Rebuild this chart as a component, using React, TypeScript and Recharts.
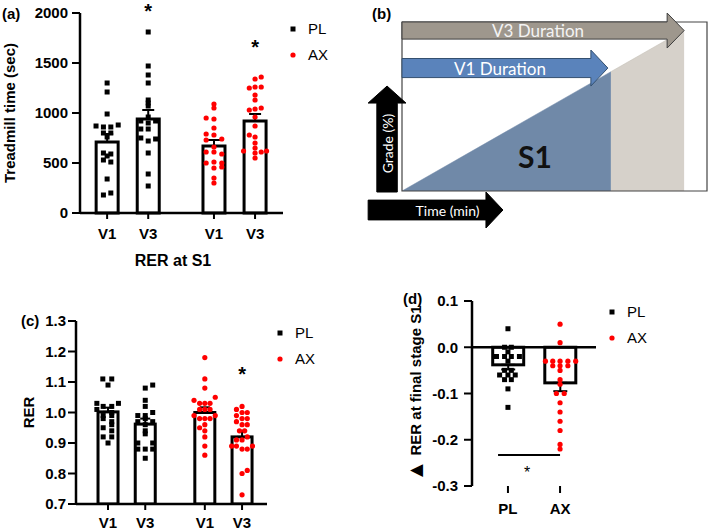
import React from 'react';
import {
  ComposedChart, Bar, Scatter, XAxis, YAxis, ErrorBar, ReferenceLine,
  ReferenceDot, ReferenceArea, Legend, Area, Label,
} from 'recharts';

const ARIAL = '"Liberation Sans", Arial, Helvetica, sans-serif';
const CALIBRI = 'Lato, "Open Sans", sans-serif';
const RED = '#ff0000';

// ---------- shared categories ----------
const visitLabels = ['V1', 'V3', 'V1', 'V3'];
const visitPos = [1, 2, 3.6, 4.6];
const groupNames = ['PL', 'AX'];
const groupPos = [1, 2];

// ---------- (a) treadmill time (sec) ----------
const timeTicks = [0, 500, 1000, 1500, 2000];
const timeMean = [710, 940, 670, 920];
const timeSem = [80, 90, 60, 70];
const timePLV1 = [1300, 1210, 990, 870, 860, 860, 880, 800, 800, 760, 600, 590, 570, 530, 510, 340, 180, 200];
const timePLV1Dx = [0, 0, 0, -0.27, -0.09, 0.09, 0.27, -0.09, 0.09, 0, -0.09, 0.09, 0, -0.09, 0.09, 0, -0.09, 0.09];
const timePLV3 = [1810, 1470, 1380, 1300, 1130, 1100, 1070, 960, 920, 920, 900, 840, 840, 750, 740, 720, 600, 390, 270];
const timePLV3Dx = [0, 0, 0, 0, 0, 0, 0, 0, -0.18, 0.18, 0, -0.18, 0, -0.18, 0.18, 0, 0, 0, 0];
const timeAXV1 = [1090, 1050, 950, 940, 850, 790, 780, 730, 740, 660, 610, 610, 590, 500, 510, 500, 460, 450, 350, 300];
const timeAXV1Dx = [0, 0, -0.19, 0, 0, -0.19, 0, -0.19, 0.19, 0, -0.19, 0, 0.19, -0.19, 0, 0.19, 0.19, 0, 0, 0];
const timeAXV3 = [1360, 1340, 1260, 1260, 1250, 1180, 1130, 1050, 1030, 1040, 960, 870, 780, 760, 700, 650, 620, 620, 610, 600, 550];
const timeAXV3Dx = [0.15, 0, 0, 0.15, -0.14, 0, 0, 0.15, -0.14, 0, 0, 0, -0.14, 0, 0, 0, -0.28, 0.28, 0.15, 0, 0];
const timeStars = [{ x: 2, y: 2020 }, { x: 4.6, y: 1662 }];

// ---------- (c) RER at S1 ----------
const rerTicks = [0.7, 0.8, 0.9, 1.0, 1.1, 1.2, 1.3];
const rerMean = [1.002, 0.962, 1.0, 0.92];
const rerSem = [0.014, 0.018, 0.017, 0.02];
const rerPLV1 = [1.11, 1.11, 1.09, 1.03, 1.02, 1.02, 1.03, 1.01, 1.0, 0.99, 0.99, 0.98, 0.97, 0.96, 0.95, 0.94, 0.92, 0.92, 0.9];
const rerPLV1Dx = [-0.14, 0.1, 0, -0.3, -0.13, 0.1, 0.28, -0.3, 0.1, -0.13, 0.1, -0.13, 0.1, 0.1, -0.13, 0.1, -0.13, 0.1, 0];
const rerPLV3 = [1.09, 1.08, 1.04, 1.02, 1.0, 0.99, 0.99, 0.98, 0.97, 0.97, 0.96, 0.94, 0.93, 0.9, 0.9, 0.88, 0.88, 0.88, 0.85];
const rerPLV3Dx = [0.2, 0, 0, 0, 0.2, -0.2, 0, 0, -0.2, 0.2, 0, 0, 0, -0.2, 0.2, -0.2, 0, 0.2, 0];
const rerAXV1 = [1.18, 1.11, 1.08, 1.05, 1.04, 1.03, 1.03, 1.03, 1.01, 1.01, 1.01, 0.99, 0.99, 0.98, 0.98, 0.98, 0.96, 0.95, 0.94, 0.92, 0.89, 0.86];
const rerAXV1Dx = [0, 0, 0, 0.28, -0.29, -0.14, 0, 0.14, -0.14, 0, 0.14, -0.29, 0.28, -0.14, 0, 0.14, 0, -0.14, 0, 0, 0, 0];
const rerAXV3 = [1.02, 1.01, 1.0, 1.0, 0.99, 0.98, 0.98, 0.97, 0.96, 0.96, 0.94, 0.94, 0.92, 0.91, 0.91, 0.89, 0.89, 0.89, 0.88, 0.88, 0.81, 0.8, 0.73];
const rerAXV3Dx = [0, -0.15, 0, 0.14, -0.15, 0, 0.14, -0.15, 0, 0.14, -0.07, 0.07, 0.14, -0.15, 0, -0.28, -0.15, 0.28, 0, 0.14, 0.14, 0, 0];
const rerStars = [{ x: 4.6, y: 1.128 }];

// ---------- (d) delta RER at final stage S1 ----------
const dTicks = [-0.3, -0.2, -0.1, 0.0, 0.1];
const dMean = [-0.038, -0.077];
const dSem = [0.01, 0.018];
const dPL = [0.04, 0, 0, -0.01, -0.02, -0.02, -0.02, -0.02, -0.03, -0.05, -0.05, -0.06, -0.06, -0.06, -0.07, -0.07, -0.09, -0.13];
const dPLDx = [0, -0.065, 0.065, 0, -0.22, -0.065, 0.065, 0.22, 0, -0.065, 0.065, -0.16, 0, 0.14, -0.065, 0.065, 0, 0];
const dAX = [0.05, 0.01, -0.03, -0.03, -0.03, -0.03, -0.03, -0.04, -0.04, -0.04, -0.05, -0.07, -0.08, -0.1, -0.1, -0.12, -0.14, -0.16, -0.18, -0.21, -0.22];
const dAXDx = [0, 0, -0.28, -0.14, 0, 0.15, 0.3, -0.14, 0, 0.15, 0, 0, 0, -0.07, 0.08, 0, 0, 0, 0, 0, 0];
const dSigBar = [{ x: 0.81, y: -0.233 }, { x: 2.0, y: -0.233 }];
const dStar = { x: 1.37, y: -0.271 };

// ---------- (b) schematic: grade vs time ----------
const rampTime = [0, 68.5, 92.5];
const rampS1 = [0, 70.6, null];
const rampV3 = [null, 70.6, 95.3];
const v3Arrow = { x1: 0, x2: 92.5, y1: 84.6, y2: 105.3 };
const v1Arrow = { x1: 0, x2: 67.5, y1: 62.1, y2: 83.4 };
const gradeArrow = { x1: -11.1, x2: 1.3, y1: -0.6, y2: 62.1 };
const timeArrow = { x1: -11.1, x2: 33.1, y1: -21.9, y2: -0.6 };
const s1Pos = { x: 43.6, y: 20 };

// ---------- helpers ----------
const pts = (vals: number[], dx: number[], c: number) => vals.map((y, i) => ({ x: c + dx[i], y }));
const barRows = (pos: number[], mean: number[], sem: number[]) =>
  pos.map((x, i) => ({ x, y: mean[i], err: mean[i] >= 0 ? [0, sem[i]] : [sem[i], 0] }));

const timeBars = barRows(visitPos, timeMean, timeSem);
const timePL = [...pts(timePLV1, timePLV1Dx, visitPos[0]), ...pts(timePLV3, timePLV3Dx, visitPos[1])];
const timeAX = [...pts(timeAXV1, timeAXV1Dx, visitPos[2]), ...pts(timeAXV3, timeAXV3Dx, visitPos[3])];
const rerBars = barRows(visitPos, rerMean, rerSem);
const rerPL = [...pts(rerPLV1, rerPLV1Dx, visitPos[0]), ...pts(rerPLV3, rerPLV3Dx, visitPos[1])];
const rerAX = [...pts(rerAXV1, rerAXV1Dx, visitPos[2]), ...pts(rerAXV3, rerAXV3Dx, visitPos[3])];
const dBars = barRows(groupPos, dMean, dSem);
const dPLPts = pts(dPL, dPLDx, groupPos[0]);
const dAXPts = pts(dAX, dAXDx, groupPos[1]);
const rampData = rampTime.map((t, i) => ({ t, s1: rampS1[i], v3: rampV3[i] }));

const squareShape = (p: any) => <rect x={p.cx - 2.5} y={p.cy - 2.5} width={5} height={5} fill="#000" />;
const dotShape = (p: any) => <circle cx={p.cx} cy={p.cy} r={2.6} fill={RED} />;

// bar drawn centred on the library's bar position, with a fixed visual width
const barShape = (w: number) => (p: any) => {
  const cx = p.x + p.width / 2;
  const y0 = Math.min(p.y, p.y + p.height);
  const h = Math.abs(p.height);
  return <rect x={cx - w / 2} y={y0} width={w} height={h} fill="#fff" stroke="#000" strokeWidth={3} />;
};

const legendOrder = ['PL', 'AX'];
const legendContent = (props: any) => {
  const items = (props.payload || []).filter((e: any) => legendOrder.includes(e.value))
    .sort((a: any, b: any) => legendOrder.indexOf(a.value) - legendOrder.indexOf(b.value));
  return (
    <div style={{ fontFamily: ARIAL, fontSize: 15, color: '#000' }}>
      {items.map((e: any) => (
        <div key={e.value} style={{ display: 'flex', alignItems: 'center', height: 26 }}>
          <svg width={10} height={10} style={{ display: 'block' }}>
            {e.value === 'PL'
              ? <rect x={2.5} y={2.5} width={5} height={5} fill="#000" />
              : <circle cx={5} cy={5} r={2.6} fill={RED} />}
          </svg>
          <span style={{ marginLeft: 10, lineHeight: '26px' }}>{e.value}</span>
        </div>
      ))}
    </div>
  );
};

const yTitle = (text: string, cx: number, size: number, prefix?: string) => (props: any) => {
  const vb = props.viewBox || { y: 0, height: 0 };
  const cy = vb.y + vb.height / 2;
  return (
    <text x={cx} y={cy} transform={`rotate(-90 ${cx} ${cy})`} textAnchor="middle" dominantBaseline="central"
      fontFamily={ARIAL} fontWeight="bold" fontSize={size} fill="#000">
      {prefix ? <tspan fontSize={size + 7}>{prefix}</tspan> : null}
      {text}
    </text>
  );
};

const tickStyle = { fill: '#000', fontSize: 15, fontWeight: 'bold', fontFamily: ARIAL } as any;
const axisLine = { stroke: '#000', strokeWidth: 2.5 };
const tickLine = { stroke: '#000', strokeWidth: 2 };
const starLabel = (size: number, weight: string) => ({
  value: '*', position: 'center', fontSize: size, fontWeight: weight, fill: '#000', fontFamily: ARIAL,
}) as any;

const arrowShape = (dir: 'right' | 'up', bodyFrac: number, head: number, text: string, fs: number, color: string, rot: boolean, tdx = 0) =>
  (p: any) => {
    const { x, y, width: w, height: h, fill, stroke } = p;
    let poly = '';
    let cx = x + w / 2 + tdx;
    let cy = y + h / 2;
    if (dir === 'right') {
      const bt = y + (h * (1 - bodyFrac)) / 2;
      const bb = y + (h * (1 + bodyFrac)) / 2;
      const hx = x + w - head;
      poly = `${x},${bt} ${hx},${bt} ${hx},${y} ${x + w},${y + h / 2} ${hx},${y + h} ${hx},${bb} ${x},${bb}`;
    } else {
      const bl = x + (w * (1 - bodyFrac)) / 2;
      const br = x + (w * (1 + bodyFrac)) / 2;
      const hy = y + head;
      poly = `${bl},${y + h} ${bl},${hy} ${x},${hy} ${x + w / 2},${y} ${x + w},${hy} ${br},${hy} ${br},${y + h}`;
      cx = x + w / 2;
      cy = hy + (h - head) / 2 + tdx;
    }
    return (
      <g>
        <polygon points={poly} fill={fill} stroke={stroke} strokeWidth={1} />
        <text x={cx} y={cy} textAnchor="middle" dominantBaseline="central" fontFamily={CALIBRI}
          fontSize={fs} fill={color} transform={rot ? `rotate(-90 ${cx} ${cy})` : undefined}>{text}</text>
      </g>
    );
  };

const abs = (left: number, top: number): React.CSSProperties => ({ position: 'absolute', left, top });
const panelTag = (t: string, left: number, cy: number) => (
  <div style={{ ...abs(left, cy - 8), fontFamily: ARIAL, fontWeight: 'bold', fontSize: 15, lineHeight: '16px', color: '#000' }}>{t}</div>
);

export default function App() {
  return (
    <div style={{ position: 'absolute', left: 0, top: 0, width: 709, height: 532, background: '#fff', overflow: 'hidden' }}>
      {/* (a) */}
      <div style={abs(0, 0)}>
        <ComposedChart width={300} height={245} data={timeBars} margin={{ top: 13, right: 17, bottom: 0, left: 0 }}>
          <XAxis type="number" dataKey="x" domain={[0.34, 5.28]} ticks={visitPos} interval={0} allowDataOverflow
            tickFormatter={(v: number) => visitLabels[visitPos.indexOf(v)]} tick={tickStyle}
            tickSize={6} tickMargin={9} axisLine={axisLine} tickLine={tickLine} height={32} />
          <YAxis type="number" dataKey="y" domain={[0, 2000]} ticks={timeTicks} interval={0} width={80}
            tick={tickStyle} tickSize={8} tickMargin={4} axisLine={axisLine} tickLine={tickLine}
            label={<Label content={yTitle('Treadmill time (sec)', 9, 15)} />} />
          <Bar dataKey="y" shape={barShape(22)} fill="#fff" stroke="#000" isAnimationActive={false} legendType="none">
            <ErrorBar dataKey="err" width={6} stroke="#000" strokeWidth={2} direction="y" />
          </Bar>
          <Scatter name="PL" data={timePL} dataKey="y" fill="#000" shape={squareShape} isAnimationActive={false} />
          <Scatter name="AX" data={timeAX} dataKey="y" fill={RED} shape={dotShape} isAnimationActive={false} />
          {timeStars.map((s, i) => (
            <ReferenceDot key={i} x={s.x} y={s.y} r={0} fill="none" stroke="none" ifOverflow="visible" label={starLabel(20, 'bold')} />
          ))}
          <Legend layout="vertical" align="center" verticalAlign="middle" content={legendContent}
            wrapperStyle={{ left: 288, top: 16, width: 60, height: 52 }} />
        </ComposedChart>
      </div>

      {/* (b) */}
      <div style={abs(360, 0)}>
        <ComposedChart width={349} height={240} data={rampData} margin={{ top: 22, right: 2, bottom: 49, left: 42 }}>
          <XAxis type="number" dataKey="t" domain={[0, 100]} hide allowDataOverflow />
          <YAxis type="number" domain={[0, 100]} hide allowDataOverflow />
          <Area type="linear" dataKey="s1" fill="#7089a8" fillOpacity={1} stroke="#7089a8" strokeWidth={0.5} isAnimationActive={false} />
          <Area type="linear" dataKey="v3" fill="#d6d1ca" fillOpacity={1} stroke="#bdb6ad" strokeWidth={0.5} isAnimationActive={false} />
          <ReferenceArea x1={0} x2={100} y1={0} y2={100} fill="none" stroke="#444" strokeWidth={1.2} ifOverflow="visible" />
          <ReferenceArea {...v3Arrow} fill="#9e978d" stroke="#3f3f3f" ifOverflow="visible"
            shape={arrowShape('right', 0.49, 17, 'V3 Duration', 17, '#f3f3f3', false, -5)} />
          <ReferenceArea {...v1Arrow} fill="#5a83bb" stroke="#34506f" ifOverflow="visible"
            shape={arrowShape('right', 0.53, 17, 'V1 Duration', 17, '#ffffff', false, -5)} />
          <ReferenceArea {...gradeArrow} fill="#000" stroke="#000" ifOverflow="visible"
            shape={arrowShape('up', 0.54, 17, 'Grade (%)', 14, '#ffffff', true, -4)} />
          <ReferenceArea {...timeArrow} fill="#000" stroke="#000" ifOverflow="visible"
            shape={arrowShape('right', 0.55, 17, 'Time (min)', 14, '#ffffff', false, 12)} />
          <ReferenceDot x={s1Pos.x} y={s1Pos.y} r={0} fill="none" stroke="none" ifOverflow="visible"
            label={{ value: 'S1', position: 'center', fontSize: 30, fontWeight: 'bold', fill: '#111', fontFamily: CALIBRI } as any} />
        </ComposedChart>
      </div>

      {/* (c) */}
      <div style={abs(0, 300)}>
        <ComposedChart width={300} height={232} data={rerBars} margin={{ top: 21, right: 33, bottom: 0, left: 0 }}>
          <XAxis type="number" dataKey="x" domain={[0.14, 5.27]} ticks={visitPos} interval={0} allowDataOverflow
            tickFormatter={(v: number) => visitLabels[visitPos.indexOf(v)]} tick={tickStyle}
            tickSize={6} tickMargin={7} axisLine={axisLine} tickLine={tickLine} height={28} />
          <YAxis type="number" dataKey="y" domain={[0.7, 1.3]} ticks={rerTicks} interval={0} width={76}
            tickFormatter={(v: number) => v.toFixed(1)} allowDataOverflow
            tick={tickStyle} tickSize={8} tickMargin={2} axisLine={axisLine} tickLine={tickLine}
            label={<Label content={yTitle('RER', 28, 15)} />} />
          <Bar dataKey="y" shape={barShape(20)} fill="#fff" stroke="#000" isAnimationActive={false} legendType="none">
            <ErrorBar dataKey="err" width={5} stroke="#000" strokeWidth={2} direction="y" />
          </Bar>
          <Scatter name="PL" data={rerPL} dataKey="y" fill="#000" shape={squareShape} isAnimationActive={false} />
          <Scatter name="AX" data={rerAX} dataKey="y" fill={RED} shape={dotShape} isAnimationActive={false} />
          {rerStars.map((s, i) => (
            <ReferenceDot key={i} x={s.x} y={s.y} r={0} fill="none" stroke="none" ifOverflow="visible" label={starLabel(20, 'bold')} />
          ))}
          <Legend layout="vertical" align="center" verticalAlign="middle" content={legendContent}
            wrapperStyle={{ left: 275, top: 20, width: 60, height: 52 }} />
        </ComposedChart>
      </div>

      {/* (d) */}
      <div style={abs(380, 280)}>
        <ComposedChart width={329} height={240} data={dBars} margin={{ top: 21, right: 113, bottom: 0, left: 0 }}>
          <XAxis type="number" dataKey="x" domain={[0.31, 2.69]} ticks={groupPos} interval={0} allowDataOverflow
            tickFormatter={(v: number) => groupNames[groupPos.indexOf(v)]} tick={tickStyle}
            tickSize={7} tickMargin={10} axisLine={false} tickLine={tickLine} height={34} />
          <YAxis type="number" dataKey="y" domain={[-0.3, 0.1]} ticks={dTicks} interval={0} width={92}
            tickFormatter={(v: number) => v.toFixed(1)} allowDataOverflow
            tick={tickStyle} tickSize={8} tickMargin={6} axisLine={axisLine} tickLine={tickLine}
            label={<Label content={yTitle(' RER at final stage S1', 35, 15, '\u25B2')} />} />
          <ReferenceLine y={0} stroke="#000" strokeWidth={2.5} />
          <Bar dataKey="y" shape={barShape(31)} fill="#fff" stroke="#000" isAnimationActive={false} legendType="none">
            <ErrorBar dataKey="err" width={7} stroke="#000" strokeWidth={2} direction="y" />
          </Bar>
          <Scatter name="PL" data={dPLPts} dataKey="y" fill="#000" shape={squareShape} isAnimationActive={false} />
          <Scatter name="AX" data={dAXPts} dataKey="y" fill={RED} shape={dotShape} isAnimationActive={false} />
          <ReferenceLine segment={dSigBar} stroke="#000" strokeWidth={2} ifOverflow="visible" />
          <ReferenceDot x={dStar.x} y={dStar.y} r={0} fill="none" stroke="none" ifOverflow="visible" label={starLabel(16, 'normal')} />
          <Legend layout="vertical" align="center" verticalAlign="middle" content={legendContent}
            wrapperStyle={{ left: 227, top: 19, width: 60, height: 52 }} />
        </ComposedChart>
      </div>

      {panelTag('(a)', 2, 14)}
      {panelTag('(b)', 372, 14)}
      {panelTag('(c)', 21, 321)}
      {panelTag('(d)', 403, 299)}
      <div style={{ ...abs(173, 253), transform: 'translateX(-50%)', fontFamily: ARIAL, fontWeight: 'bold', fontSize: 16, lineHeight: '16px', whiteSpace: 'nowrap', color: '#000' }}>RER at S1</div>
    </div>
  );
}
